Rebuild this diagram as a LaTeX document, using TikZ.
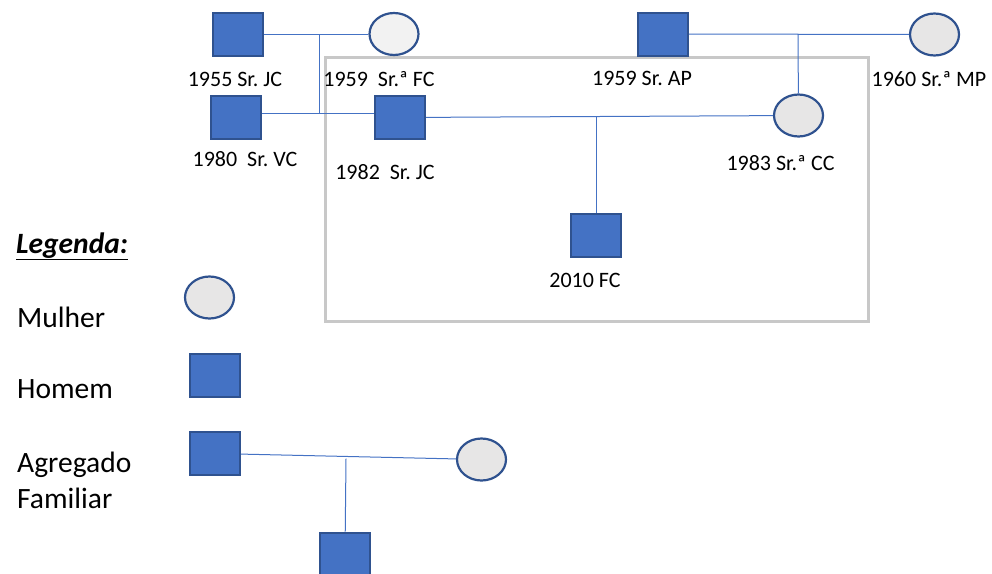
\documentclass[tikz,border=0pt]{standalone}
\usepackage{fontspec}
\setmainfont{Carlito}
\usetikzlibrary{shapes.geometric}
\frenchspacing

\definecolor{azul}{HTML}{4472C4}
\definecolor{azulesc}{HTML}{2F528F}
\definecolor{cinza}{HTML}{E7E6E6}
\definecolor{cinzaclaro}{HTML}{F2F2F2}
\definecolor{caixa}{HTML}{C8C8C8}

\tikzset{
  homem/.style={draw=azulesc, line width=2pt, fill=azul, minimum width=50pt, minimum height=43pt, inner sep=0pt},
  mulher/.style={ellipse, draw=azulesc, line width=2.2pt, fill=cinza, minimum width=49pt, minimum height=42pt, inner sep=0pt},
  ligacao/.style={azul, line width=1pt},
  nome/.style={font=\fontsize{22}{26}\selectfont, inner sep=0pt, anchor=base},
  legenda/.style={font=\fontsize{29.5}{36}\selectfont, inner sep=0pt, anchor=base west},
}

\begin{document}
\begin{tikzpicture}[x=1pt,y=-1pt]
    \useasboundingbox (0,0) rectangle (992,573);

    % agregado familiar
    \draw [caixa, line width=3pt] (325,57) rectangle (868,321);

    % avos
    \node [homem] (jc55) at (238,34) {};
    \node [mulher, fill=cinzaclaro] (fc59) at (394,34) {};
    \node [homem] (ap59) at (663,34) {};
    \node [mulher] (mp60) at (934.5,34.5) {};

    % pais e tio
    \node [homem] (vc80) at (236,117.5) {};
    \node [homem] (jc82) at (400,117.5) {};
    \node [mulher] (cc83) at (798.5,115.5) {};

    % filho
    \node [homem] (fc10) at (596,235) {};

    \coordinate (m1) at (319,34);
    \coordinate (f1) at (319,113);
    \coordinate (m2) at (798,34);
    \coordinate (m3) at (596,116);

    \draw [ligacao] (jc55) -- (fc59);
    \draw [ligacao] (m1) -- (f1);
    \draw [ligacao] ([yshift=4.5pt]vc80.east) -- ([yshift=4.5pt]jc82.west);
    \draw [ligacao] (ap59) -- (mp60);
    \draw [ligacao] (m2) -- (cc83);
    \draw [ligacao] (jc82) -- (cc83);
    \draw [ligacao] (m3) -- (fc10);

    \node [nome] (t-jc55) at (235,86) {1955 Sr. JC};
    \node [nome] (t-fc59) at (379,86) {1959\ \ Sr.ª FC};
    \node [nome] (t-ap59) at (642,85.5) {1959 Sr. AP};
    \node [nome] (t-mp60) at (929,86.5) {1960 Sr.ª MP};
    \node [nome] (t-vc80) at (245,166) {1980\ \ Sr. VC};
    \node [nome] (t-jc82) at (385,179.5) {1982\ \ Sr. JC};
    \node [nome] (t-cc83) at (780.5,170) {1983 Sr.ª CC};
    \node [nome] (t-fc10) at (585,287.5) {2010 FC};

    % legenda
    \node [legenda] (leg) at (16,253) {\textbf{\textit{\underline{Legenda:}}}};
    \node [legenda] (l-mulher) at (17,327) {Mulher};
    \node [legenda] (l-homem) at (17,398) {Homem};
    \node [legenda] (l-agr1) at (17,472) {Agregado};
    \node [legenda] (l-agr2) at (17,508) {Familiar};

    \node [mulher] (lm) at (209.5,297.5) {};
    \node [homem] (lh) at (215,375) {};
    \node [homem] (la-pai) at (215,453.5) {};
    \node [mulher] (la-mae) at (481.5,459.5) {};
    \node [homem] (la-filho) at (345,554) {};

    \coordinate (m4) at (346,458.5);
    \draw [ligacao] (la-pai) -- (la-mae);
    \draw [ligacao] (m4) -- (la-filho);

\end{tikzpicture}
\end{document}
